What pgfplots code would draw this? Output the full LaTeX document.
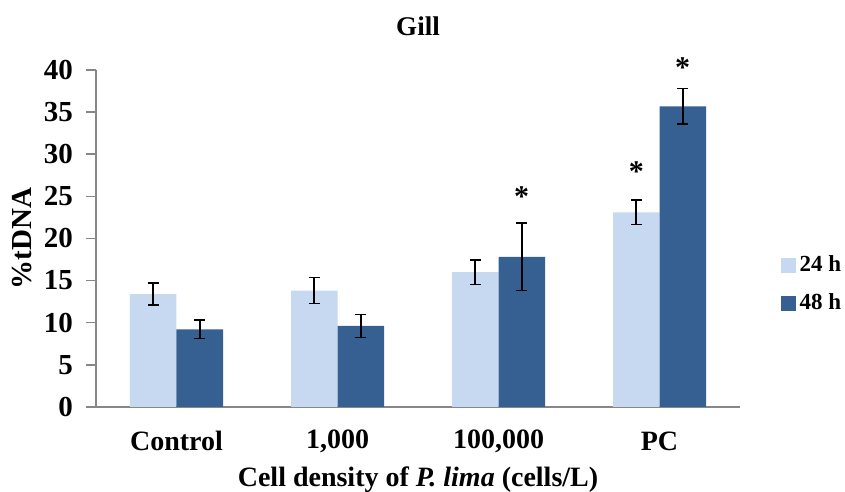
\documentclass[border=0pt]{standalone}
\usepackage{pgfplots}
\pgfplotsset{compat=1.18}
\usepackage{fontspec}
\setmainfont{Liberation Serif}
\definecolor{light}{HTML}{C6D9F0}
\definecolor{dark}{HTML}{366092}
\definecolor{axisgray}{HTML}{878787}
\pgfplotsset{errs/.style={
  error bars/.cd, y dir=both, y explicit,
  error bar style={black, line width=0.8pt},
  error mark options={rotate=90, mark size=2.75pt, line width=0.8pt, black}}}
\begin{document}
\begin{tikzpicture}
\useasboundingbox (-48pt,-42.2pt) rectangle (374.5pt,203.4pt);
\begin{axis}[
  scale only axis, clip=false,
  width=322pt, height=168.35pt,
  ybar=0pt, bar width=23.25pt,
  xmin=-0.5, xmax=3.5, ymin=0, ymax=40,
  xtick={0,1,2,3},
  xticklabels={Control,{1,000},{100,000},PC},
  ytick={0,5,...,40},
  axis x line*=bottom, axis y line*=left,
  axis line style={axisgray, line width=0.9pt, -},
  tick align=outside,
  major tick length=5pt,
  ytick style={axisgray, line width=0.8pt},
  xtick style={draw=none},
  /pgf/number format/assume math mode=true,
  yticklabel style={font=\fontsize{14.5}{16}\selectfont\bfseries, xshift=-3pt},
  xticklabel style={font=\fontsize{14}{16}\selectfont\bfseries, anchor=center, yshift=-12.3pt},
  ylabel={\%tDNA},
  ylabel style={font=\fontsize{14.5}{16}\selectfont\bfseries, at={(axis description cs:0,0.5)}, anchor=center, yshift=37pt},
  xlabel={Cell density of \textit{P. lima} (cells/L)},
  xlabel style={font=\fontsize{14}{16}\selectfont\bfseries, at={(axis description cs:0.5,0)}, anchor=center, yshift=-36.6pt},
  title={Gill},
  title style={font=\fontsize{13.5}{15}\selectfont\bfseries, at={(0.5,1)}, anchor=center, yshift=16pt},
  legend style={at={(rel axis cs:1.053,0.364)}, anchor=west, draw=none, fill=none,
    font=\fontsize{11.5}{14}\selectfont\bfseries, row sep=5.5pt},
  legend cell align=left,
  legend image code/.code={\fill[#1] (0pt,-3.75pt) rectangle (7.5pt,3.75pt);},
]
\addplot[fill=light, draw=none, errs] coordinates {
  (0,13.4) +- (0,1.3)
  (1,13.8) +- (0,1.55)
  (2,16.0) +- (0,1.45)
  (3,23.1) +- (0,1.45)
};
\addplot[fill=dark, draw=none, errs] coordinates {
  (0,9.2) +- (0,1.1)
  (1,9.6) +- (0,1.35)
  (2,17.8) +- (0,4.0)
  (3,35.7) +- (0,2.1)
};
\legend{24 h, 48 h}
\node[font=\fontsize{15}{16}\selectfont\bfseries] at (axis cs:2.144,25.0) {*};
\node[font=\fontsize{15}{16}\selectfont\bfseries] at (axis cs:2.856,27.9) {*};
\node[font=\fontsize{15}{16}\selectfont\bfseries] at (axis cs:3.144,40.3) {*};
\end{axis}
\end{tikzpicture}
\end{document}
